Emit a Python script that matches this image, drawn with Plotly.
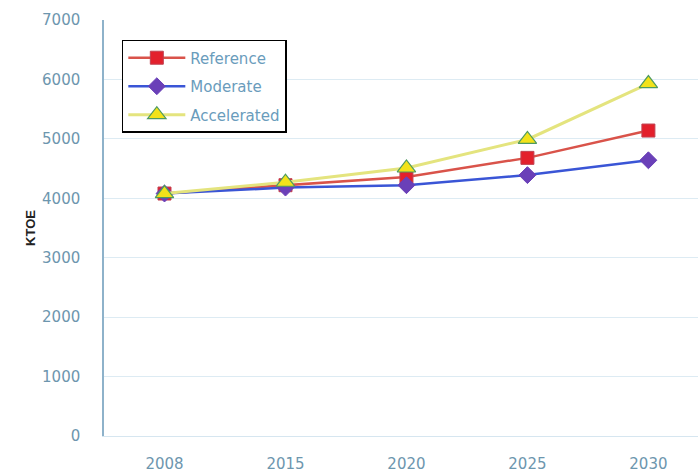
import plotly.graph_objects as go

years = ["2008", "2015", "2020", "2025", "2030"]
reference = [4080, 4220, 4360, 4680, 5140]
moderate = [4080, 4180, 4220, 4390, 4640]
accelerated = [4080, 4270, 4510, 4990, 5930]
y_ticks = [0, 1000, 2000, 3000, 4000, 5000, 6000, 7000]

fig = go.Figure()
fig.add_trace(go.Scatter(
    x=years, y=reference, name="Reference", mode="lines+markers", legendgroup="a",
    line=dict(color="#D9534A", width=2.5),
    marker=dict(symbol="square", size=13, color="#E3202C", line=dict(color="#C04050", width=1)),
))
fig.add_trace(go.Scatter(
    x=years, y=moderate, name="Moderate", mode="lines+markers", legendgroup="b",
    line=dict(color="#3A55D6", width=2.5),
    marker=dict(symbol="diamond", size=13, color="#6A40B8", line=dict(color="#6A40B8", width=1)),
))
fig.add_trace(go.Scatter(
    x=years, y=accelerated, name="Accelerated", mode="lines+markers", legendgroup="c",
    line=dict(color="#E4E47E", width=3),
    marker=dict(symbol="triangle-up", size=16, color="#F2E21A", line=dict(color="#4E9A60", width=1.2)),
))

tick_color = "#6D96AE"

fig.update_layout(
    width=698, height=474,
    margin=dict(l=104, r=0, t=20, b=38, autoexpand=False),
    paper_bgcolor="white", plot_bgcolor="white",
    font=dict(family="DejaVu Sans, sans-serif", size=15, color=tick_color),
    legend=dict(
        x=0.03, y=0.952, xanchor="left", yanchor="top",
        bordercolor="black", borderwidth=1.5, bgcolor="white",
        font=dict(family="DejaVu Sans, sans-serif", size=15, color="#6A9CBC"),
        tracegroupgap=6, itemwidth=57,
    ),
    showlegend=True,
)
fig.update_xaxes(
    type="category", range=[-0.5, 4.41], automargin=False,
    showgrid=False, showline=True, linecolor="#D6E6F0", linewidth=1,
    ticks="", ticklabelstandoff=14, tickfont=dict(size=15, color=tick_color),
)
fig.update_yaxes(
    range=[0, 7000], tickvals=y_ticks, automargin=False,
    showgrid=True, gridcolor="#DDEBF3", gridwidth=1,
    showline=True, linecolor="#8EB2CA", linewidth=1.5,
    zeroline=False, ticks="", ticklabelstandoff=19,
    tickfont=dict(size=15, color=tick_color),
    title=dict(text="<b>KTOE</b>", font=dict(family="Liberation Sans, Arial, sans-serif", size=13, color="#222222"), standoff=4),
)

fig.write_html("out.html", config={"displayModeBar": False},
               post_script="document.body.style.margin='0';")
